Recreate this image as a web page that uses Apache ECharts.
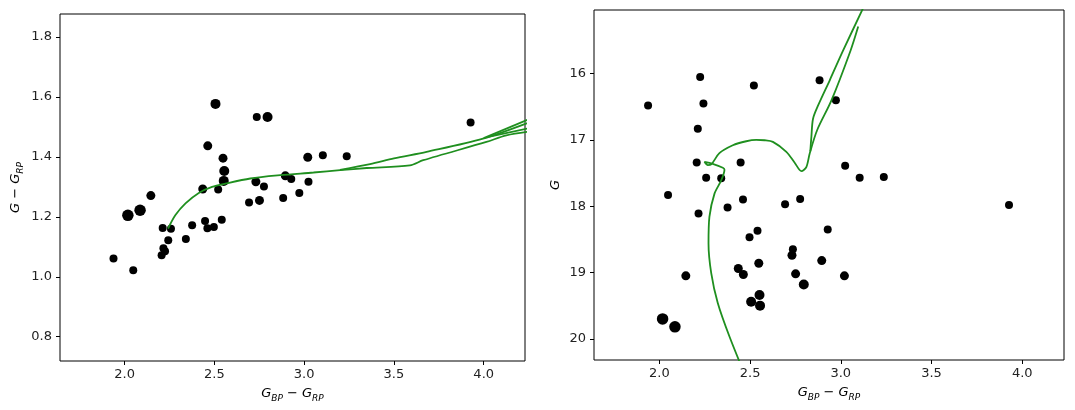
<!DOCTYPE html>
<html style="height: 100%">
<head>
    <meta charset="utf-8">
    <script src="https://cdn.jsdelivr.net/npm/echarts@6/dist/echarts.min.js"></script>
</head>
<body style="height: 100%; margin: 0; background: #fff">
    <div id="main" style="width:1075px;height:410px;"></div>
    <script type="text/javascript">
        // star photometry, one entry per star
        var bpRp = [1.938, 2.018, 2.048, 2.086, 2.146, 2.206, 2.212, 2.216, 2.225, 2.243, 2.258, 2.341, 2.376,
            2.435, 2.448, 2.461, 2.463, 2.497, 2.506, 2.521, 2.541, 2.548, 2.552, 2.555, 2.693, 2.731, 2.736,
            2.751, 2.776, 2.796, 2.883, 2.895, 2.928, 2.973, 3.020, 3.024, 3.104, 3.237, 3.927];
        var gRp = [1.061, 1.205, 1.022, 1.222, 1.271, 1.072, 1.163, 1.095, 1.085, 1.122, 1.160, 1.126, 1.172,
            1.293, 1.186, 1.162, 1.437, 1.166, 1.577, 1.291, 1.190, 1.396, 1.320, 1.353, 1.248, 1.317, 1.533,
            1.255, 1.301, 1.533, 1.263, 1.337, 1.326, 1.280, 1.399, 1.317, 1.406, 1.402, 1.515];
        var gMag = [16.48, 19.70, 17.83, 19.82, 19.05, 17.34, 16.83, 18.11, 16.05, 16.45, 17.57, 17.58, 18.02,
            18.94, 17.34, 17.90, 19.03, 18.47, 19.44, 16.18, 18.37, 18.86, 19.34, 19.50, 17.97, 18.74, 18.65,
            19.02, 17.89, 19.18, 16.10, 18.82, 18.35, 16.40, 19.05, 17.39, 17.57, 17.56, 17.98];

        // isochrone pieces
        var isoLeftMain = [[2.242, 1.161], [2.283, 1.206], [2.339, 1.245], [2.413, 1.280], [2.487, 1.300],
            [2.561, 1.311], [2.700, 1.328], [2.867, 1.339], [3.052, 1.348], [3.200, 1.356], [3.348, 1.363],
            [3.589, 1.372], [3.663, 1.389], [4.015, 1.450], [4.126, 1.472], [4.300, 1.488]];
        var isoLeftUpper = [[3.200, 1.357], [3.367, 1.376], [3.500, 1.395], [3.682, 1.417], [3.996, 1.461],
            [4.300, 1.526]];
        var isoLeftFanA = [[4.000, 1.463], [4.300, 1.538]];
        var isoLeftFanB = [[4.020, 1.466], [4.300, 1.502]];

        var isoRightMain = [[2.480, 20.60], [2.387, 19.97], [2.322, 19.46], [2.286, 19.01], [2.271, 18.56],
            [2.276, 18.16], [2.304, 17.81], [2.341, 17.61], [2.359, 17.45], [2.350, 17.42], [2.294, 17.36],
            [2.249, 17.33], [2.267, 17.38], [2.286, 17.37], [2.331, 17.20], [2.405, 17.08], [2.479, 17.02],
            [2.534, 17.00], [2.580, 17.005], [2.626, 17.03], [2.700, 17.18], [2.745, 17.34], [2.783, 17.47],
            [2.810, 17.41], [2.829, 17.20], [2.870, 16.85], [2.949, 16.40], [3.054, 15.65], [3.096, 15.29]];
        var isoRightUpper = [[2.832, 17.17], [2.838, 16.95], [2.847, 16.68], [2.875, 16.48], [2.939, 16.10],
            [3.013, 15.65], [3.125, 15.00]];

        var xTicks = [2.0, 2.5, 3.0, 3.5, 4.0];
        var leftYTicks = [0.8, 1.0, 1.2, 1.4, 1.6, 1.8];
        var rightYTicks = [16, 17, 18, 19, 20];

        var font = 'DejaVu Sans';
        var green = '#1f8f1f';

        // fainter stars were drawn with bigger dots
        function dotSize(g) {
            if (g >= 19.6) return 11.5;
            if (g >= 19.1) return 10;
            if (g >= 18.7) return 9;
            return 8;
        }

        var rich = {
            i: { fontFamily: font, fontStyle: 'italic', fontSize: 13, color: '#000', lineHeight: 18 },
            s: { fontFamily: font, fontStyle: 'italic', fontSize: 9, color: '#000', lineHeight: 18, verticalAlign: 'bottom' },
            n: { fontFamily: font, fontSize: 13, color: '#000', lineHeight: 18 }
        };

        function xAxis(idx) {
            return {
                gridIndex: idx, type: 'value', min: 1.64, max: 4.23,
                splitLine: { show: false },
                axisLine: { show: false },
                axisTick: { show: true, length: 4, customValues: xTicks, lineStyle: { color: '#000' } },
                axisLabel: {
                    customValues: xTicks, margin: 7, fontSize: 13, fontFamily: font, color: '#222',
                    formatter: function (v) { return v.toFixed(1); }
                },
                name: '{i|G}{s|BP}{n| − }{i|G}{s|RP}',
                nameLocation: 'middle', nameGap: 24,
                nameTextStyle: { rich: rich }
            };
        }

        function line(points, xi, smooth) {
            return {
                type: 'line', data: points, xAxisIndex: xi, yAxisIndex: xi,
                showSymbol: false, symbol: 'none', clip: true, z: 5, silent: true,
                smooth: smooth || 0,
                lineStyle: { color: green, width: 1.8 }
            };
        }

        var leftDots = bpRp.map(function (x, i) { return [x, gRp[i], gMag[i]]; });
        var rightDots = bpRp.map(function (x, i) { return [x, gMag[i]]; });

        var myChart = echarts.init(document.getElementById('main'));
        var option = {
            animation: false,
            backgroundColor: '#fff',
            grid: [
                { left: 60, top: 14, width: 465, height: 347, show: true, borderColor: '#000', borderWidth: 1, backgroundColor: 'transparent' },
                { left: 594, top: 10, width: 470, height: 350, show: true, borderColor: '#000', borderWidth: 1, backgroundColor: 'transparent' }
            ],
            xAxis: [xAxis(0), xAxis(1)],
            yAxis: [
                {
                    gridIndex: 0, type: 'value', min: 0.719, max: 1.877,
                    splitLine: { show: false }, axisLine: { show: false },
                    axisTick: { show: true, length: 4, customValues: leftYTicks, lineStyle: { color: '#000' } },
                    axisLabel: {
                        customValues: leftYTicks, margin: 8, fontSize: 13, fontFamily: font, color: '#222',
                        formatter: function (v) { return v.toFixed(1); }
                    },
                    name: '{i|G}{n| − }{i|G}{s|RP}', nameLocation: 'middle', nameGap: 35, nameRotate: 90,
                    nameTextStyle: { rich: rich }
                },
                {
                    gridIndex: 1, type: 'value', min: 15.04, max: 20.32, inverse: true,
                    splitLine: { show: false }, axisLine: { show: false },
                    axisTick: { show: true, length: 4, customValues: rightYTicks, lineStyle: { color: '#000' } },
                    axisLabel: {
                        customValues: rightYTicks, margin: 8, fontSize: 13, fontFamily: font, color: '#222',
                        formatter: function (v) { return String(v); }
                    },
                    name: '{i|G}', nameLocation: 'middle', nameGap: 29, nameRotate: 90,
                    nameTextStyle: { rich: rich }
                }
            ],
            series: [
                {
                    type: 'scatter', data: leftDots, xAxisIndex: 0, yAxisIndex: 0, z: 3,
                    symbolSize: function (v) { return dotSize(v[2]); },
                    itemStyle: { color: '#000', opacity: 1 }
                },
                {
                    type: 'scatter', data: rightDots, xAxisIndex: 1, yAxisIndex: 1, z: 3,
                    symbolSize: function (v) { return dotSize(v[1]); },
                    itemStyle: { color: '#000', opacity: 1 }
                },
                line(isoLeftMain, 0, 0.3), line(isoLeftUpper, 0, 0.3), line(isoLeftFanA, 0), line(isoLeftFanB, 0),
                line(isoRightMain, 1, 0.3), line(isoRightUpper, 1, 0.3)
            ]
        };
        myChart.setOption(option, true);
    </script>
</body>
</html>
